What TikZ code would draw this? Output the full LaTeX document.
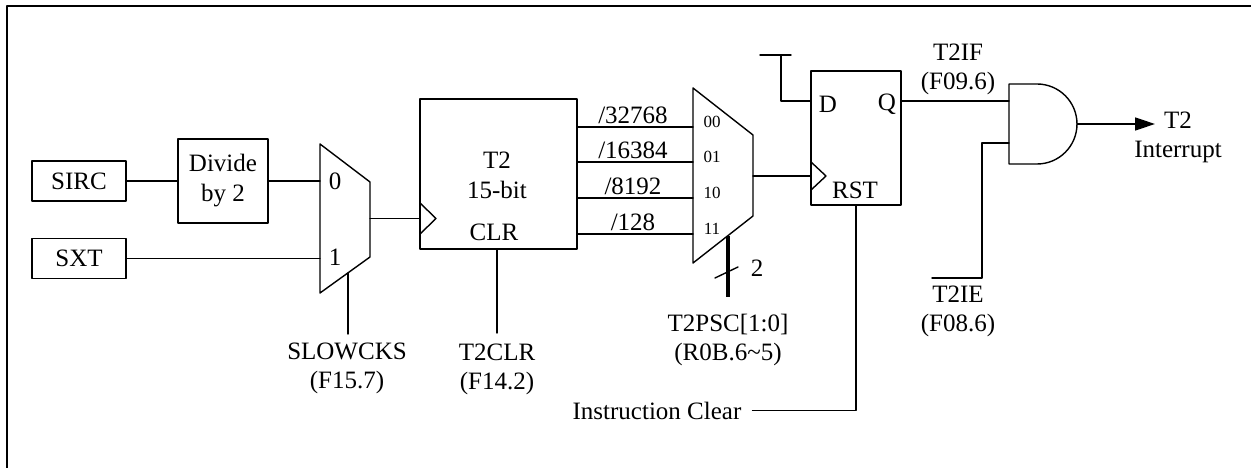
\documentclass[tikz,border=0pt]{standalone}
\usepackage{fontspec}
\setmainfont{Liberation Serif}
\usetikzlibrary{arrows.meta,positioning}
\tikzset{
  wire/.style={line width=1.4pt},
  blk/.style={draw,line width=1.4pt,inner sep=0pt,align=center,font=\fontsize{25}{30}\selectfont},
  txt/.style={inner sep=0pt,align=center,font=\fontsize{25}{29}\selectfont},
  pin/.style={inner sep=0pt,font=\fontsize{17}{20}\selectfont},
}
\begin{document}
\begin{tikzpicture}[x=1pt,y=-1pt,line cap=round,line join=round,>={Triangle[length=20pt,width=13pt]}]
	\useasboundingbox (0,0) rectangle (1251,468);
	\draw[line width=2.2pt,line cap=butt] (7,468) -- (7,6) -- (1251,6);
	\node[blk,minimum width=94pt,minimum height=40pt] (sirc) at (79,181) {SIRC};
	\node[blk,minimum width=94pt,minimum height=40pt] (sxt) at (79,258.5) {SXT};
	\node[blk,minimum width=90pt,minimum height=84pt] (div) at (223,181) {Divide\\by 2};
	\draw[wire] (320,144) -- (370,182) -- (370,257) -- (320,293) -- cycle;
	\coordinate (m0) at (320,181);
	\coordinate (m1) at (320,258.5);
	\coordinate (mout) at (370,218.5);
	\coordinate (msel) at (348,273);
	\coordinate (mselend) at (348,334);
	\node[txt] (m0lbl) at (335,181) {0};
	\node[txt] (m1lbl) at (335,257) {1};
	\node[txt] (slow) at (347,368) {SLOWCKS\\(F15.7)};
	\draw[wire] (sirc) -- (div);
	\draw[wire] (div) -- (m0);
	\draw[wire] (sxt) -- (m1);
	\draw[wire] (msel) -- (mselend);
	\node[blk,minimum width=157pt,minimum height=150pt] (t2) at (498.5,174) {};
	\node[txt] (t2name) at (497,160) {T2};
	\node[txt] (t2bit) at (497,190) {15-bit};
	\node[txt] (t2clr) at (494,232) {CLR};
	\draw[wire] (420,203) -- (436,218.5) -- (420,234);
	\coordinate (t2clk) at (420,218.5);
	\coordinate (t2clrin) at (497,249);
	\coordinate (t2clrend) at (497,333);
	\node[txt] (t2clrsig) at (497,369) {T2CLR\\(F14.2)};
	\draw[wire] (mout) -- (t2clk);
	\draw[wire] (t2clrin) -- (t2clrend);
	\draw[wire] (693,88) -- (753,135) -- (753,216) -- (693,263) -- cycle;
	\foreach \i/\y/\d/\s in {1/127/32768/00,2/162/16384/01,3/198/8192/10,4/234/128/11}{
		\coordinate (q\i) at (577,\y);
		\coordinate (p\i) at (693,\y);
		\draw[wire] (q\i) -- (p\i);
		\node[txt] (div\i) at (633,\y-12) {/\d};
		\node[pin] (sel\i) at (712,\y-5) {\s};
	}
	\coordinate (psel) at (728,236);
	\coordinate (pselend) at (728,297);
	\coordinate (pout) at (753,176);
	\draw[line width=4pt,line cap=butt] (psel) -- (pselend);
	\draw[wire] (715,278) -- (738,267);
	\node[txt] (buswd) at (757,268) {2};
	\node[txt] (psc) at (728,340) {T2PSC[1:0]\\(R0B.6\textasciitilde5)};
	\node[blk,minimum width=90pt,minimum height=134pt] (ff) at (856,138) {};
	\node[txt] (ffd) at (828,104) {D};
	\node[txt] (ffq) at (887,104) {Q};
	\node[txt] (ffrst) at (855,190) {RST};
	\draw[wire] (811,162) -- (826,176) -- (811,190);
	\coordinate (ffclk) at (811,176);
	\coordinate (ffdin) at (811,101);
	\coordinate (ffqout) at (901,101);
	\coordinate (tie) at (781,55);
	\coordinate (tieL) at (760,55);
	\coordinate (tieR) at (791,55);
	\draw[wire] (pout) -- (ffclk);
	\draw[wire] (ffdin) -| (tie);
	\draw[wire] (tieL) -- (tieR);
	\node[txt] (iclr) at (657,410.5) {Instruction Clear};
	\draw[wire] (ff.south) |- ([xshift=11pt]iclr.east);
	\draw[wire] (1009,84) -- (1037,84) arc[start angle=-90,end angle=90,radius=40] -- (1009,164) -- cycle;
	\coordinate (and1) at (1009,101);
	\coordinate (and2) at (1009,143);
	\coordinate (andout) at (1077,124);
	\coordinate (irq) at (1155,124);
	\coordinate (ieend) at (932,278);
	\node[txt] (t2if) at (958,69) {T2IF\\(F09.6)};
	\node[txt] (t2ie) at (958,311) {T2IE\\(F08.6)};
	\node[txt] (t2int) at (1178,137.5) {T2\\Interrupt};
	\draw[wire] (ffqout) -- (and1);
	\draw[wire] (and2) -| (982,278) -- (ieend);
	\draw[wire,->] (andout) -- (irq);
\end{tikzpicture}
\end{document}
